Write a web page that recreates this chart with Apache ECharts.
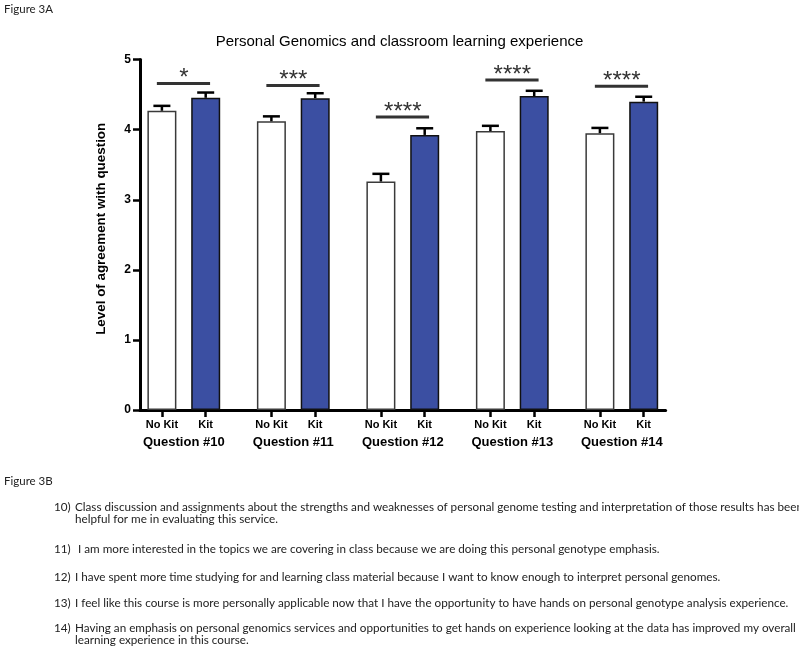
<!DOCTYPE html>
<html><head><meta charset="utf-8">
<script src="https://cdn.jsdelivr.net/npm/echarts@6/dist/echarts.min.js"></script>
<style>html,body{margin:0;padding:0;background:#fff}#c{width:799px;height:659px}</style>
</head><body><div id="c"></div>
<script>
// ---- data ----
const questions = ['Question #10', 'Question #11', 'Question #12', 'Question #13', 'Question #14'];
const barLabels = ['No Kit', 'Kit'];
const noKit = [4.27, 4.12, 3.26, 3.98, 3.95];
const noKitErr = [0.07, 0.07, 0.11, 0.075, 0.075];
const kit = [4.455, 4.45, 3.925, 4.48, 4.40];
const kitErr = [0.075, 0.07, 0.095, 0.075, 0.07];
const sigLevel = [4.66, 4.63, 4.18, 4.71, 4.62];
const sigStars = ['*', '***', '****', '****', '****'];
const yTicks = [0, 1, 2, 3, 4, 5];
const chartTitle = 'Personal Genomics and classroom learning experience';
const yName = 'Level of agreement with question';
const panelA = 'Figure 3A';
const panelB = 'Figure 3B';
const statementNums = ['10)', '11)', '12)', '13)', '14)'];
const statementLines = [
  ['Class discussion and assignments about the strengths and weaknesses of personal genome testing and interpretation of those results has been',
   'helpful for me in evaluating this service.'],
  [' I am more interested in the topics we are covering in class because we are doing this personal genotype emphasis.'],
  ['I have spent more time studying for and learning class material because I want to know enough to interpret personal genomes.'],
  ['I feel like this course is more personally applicable now that I have the opportunity to have hands on personal genotype analysis experience.'],
  ['Having an emphasis on personal genomics services and opportunities to get hands on experience looking at the data has improved my overall',
   'learning experience in this course.']
];

// ---- layout ----
const FONT = '"Liberation Sans", Arial, sans-serif';
const TXT = 'Lato, "Liberation Sans Narrow", sans-serif';
const SLOT = 5, NOKIT_OFF = 1, KIT_OFF = 3, GROUP_OFF = 2;
const noKitX = i => SLOT * i + NOKIT_OFF;
const kitX = i => SLOT * i + KIT_OFF;
const groupX = i => SLOT * i + GROUP_OFF;
const barTicks = [], barTickLabel = {};
questions.forEach((q, i) => {
  barTicks.push(noKitX(i), kitX(i));
  barTickLabel[noKitX(i)] = barLabels[0];
  barTickLabel[kitX(i)] = barLabels[1];
});
const groupTicks = questions.map((q, i) => groupX(i));
const groupLabel = {};
questions.forEach((q, i) => { groupLabel[groupX(i)] = q; });

const chart = echarts.init(document.getElementById('c'), null, {renderer: 'canvas'});

function errRender(params, api) {
  const x = api.value(0), y = api.value(1), e = api.value(2);
  const p0 = api.coord([x, y]);
  const p1 = api.coord([x, y + e]);
  const st = {stroke: '#000', lineWidth: 2.5};
  return {type: 'group', children: [
    {type: 'line', shape: {x1: p0[0], y1: p0[1], x2: p1[0], y2: p1[1]}, style: st},
    {type: 'line', shape: {x1: p1[0] - 8.5, y1: p1[1], x2: p1[0] + 8.5, y2: p1[1]}, style: st}
  ]};
}
function sigRender(params, api) {
  const x = api.value(0), y = api.value(1);
  const pl = api.coord([x - 1.23, y]);
  const pr = api.coord([x + 1.2, y]);
  const pc = api.coord([x, y]);
  return {type: 'group', children: [
    {type: 'line', shape: {x1: pl[0], y1: pl[1], x2: pr[0], y2: pr[1]}, style: {stroke: '#333', lineWidth: 3}},
    {type: 'text', x: pc[0], y: pc[1] - 5, style: {text: sigStars[params.dataIndex], fill: '#333',
      font: '24px ' + FONT, align: 'center', verticalAlign: 'middle', textAlign: 'center', textVerticalAlign: 'middle'}}
  ]};
}

const TXT_SIZE = 11.7;
const graphics = [
  {type: 'text', left: 4, top: 3, style: {text: panelA, font: '11.5px ' + TXT, fill: '#222'}},
  {type: 'text', left: 4, top: 475, style: {text: panelB, font: '11.5px ' + TXT, fill: '#222'}}
];
const paraY = [507, 549, 577, 603, 628];
const wrapGap = 12;
statementNums.forEach((n, i) => {
  graphics.push({type: 'text', x: 54, y: paraY[i], style: {text: n, font: TXT_SIZE + 'px ' + TXT, fill: '#222', verticalAlign: 'middle'}});
  statementLines[i].forEach((ln, j) => {
    graphics.push({type: 'text', x: 75, y: paraY[i] + j * wrapGap, style: {text: ln, font: TXT_SIZE + 'px ' + TXT, fill: '#222', verticalAlign: 'middle'}});
  });
});

chart.setOption({
  animation: false,
  backgroundColor: '#fff',
  title: {text: chartTitle, left: 'center', top: 29,
    textStyle: {fontSize: 15, fontWeight: 'normal', color: '#000', fontFamily: FONT}},
  grid: {left: 140, top: 59.6, width: 525.6, height: 350.4, containLabel: false},
  xAxis: [
    {type: 'value', min: 0, max: SLOT * questions.length - 1, position: 'bottom',
      axisLine: {show: true, onZero: false, lineStyle: {color: '#000', width: 3}},
      axisTick: {show: true, customValues: barTicks, length: 7, lineStyle: {color: '#000', width: 2.5}},
      axisLabel: {show: true, customValues: barTicks, formatter: v => barTickLabel[v] || '',
        fontSize: 11, fontWeight: 'bold', color: '#000', margin: 9, fontFamily: FONT},
      splitLine: {show: false}},
    {type: 'value', min: 0, max: SLOT * questions.length - 1, position: 'bottom',
      axisLine: {show: false}, axisTick: {show: false},
      axisLabel: {show: true, customValues: groupTicks, formatter: v => groupLabel[v] || '',
        fontSize: 13, fontWeight: 'bold', color: '#000', margin: 26, fontFamily: FONT},
      splitLine: {show: false}}
  ],
  yAxis: {type: 'value', min: yTicks[0], max: yTicks[yTicks.length - 1], interval: 1,
    axisLine: {show: true, lineStyle: {color: '#000', width: 3}},
    axisTick: {show: true, length: 7, lineStyle: {color: '#000', width: 2.5}},
    axisLabel: {fontSize: 12, fontWeight: 'bold', color: '#000', margin: 9, fontFamily: FONT},
    splitLine: {show: false},
    name: yName, nameLocation: 'middle', nameGap: 32, nameRotate: 90,
    nameTextStyle: {fontSize: 13.4, fontWeight: 'bold', color: '#000', fontFamily: FONT, padding: [0, 0, 0, 12]}},
  series: [
    {type: 'bar', name: barLabels[0], xAxisIndex: 0, barWidth: 29, barGap: '-100%',
      data: noKit.map((v, i) => [noKitX(i), v]),
      itemStyle: {color: '#fff', borderColor: '#3a3a3a', borderWidth: 1.5}},
    {type: 'bar', name: barLabels[1], xAxisIndex: 0, barWidth: 29, barGap: '-100%',
      data: kit.map((v, i) => [kitX(i), v]),
      itemStyle: {color: '#3b4fa2', borderColor: '#111', borderWidth: 1.5}},
    {type: 'custom', xAxisIndex: 0, renderItem: errRender, z: 5,
      data: noKit.map((v, i) => [noKitX(i), v, noKitErr[i]]).concat(kit.map((v, i) => [kitX(i), v, kitErr[i]])),
      encode: {x: 0, y: 1}},
    {type: 'custom', xAxisIndex: 0, renderItem: sigRender, z: 5,
      data: sigLevel.map((v, i) => [groupX(i), v]), encode: {x: 0, y: 1}}
  ],
  graphic: graphics
});
</script></body></html>
